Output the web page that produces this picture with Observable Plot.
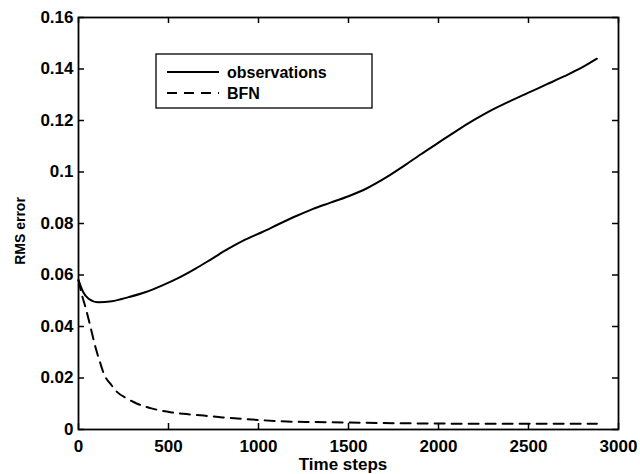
<!DOCTYPE html>
<html><head><meta charset="utf-8">
<script src="https://cdn.jsdelivr.net/npm/d3@7"></script>
<script src="https://cdn.jsdelivr.net/npm/@observablehq/plot@0.6"></script>
<style>
body{margin:0;background:#fff}
#chart{width:640px;height:474px;overflow:hidden}
</style>
</head><body><div id="chart"></div>
<script>
// Data
const seriesNames = ["observations", "BFN"];
const obsT = [0, 25, 56, 111, 185, 278, 370, 463, 556, 648, 741, 833, 926, 1019, 1111, 1213, 1300, 1400, 1500, 1600, 1700, 1800, 1900, 2000, 2100, 2200, 2300, 2400, 2500, 2600, 2700, 2800, 2880];
const obsV = [0.0580, 0.0535, 0.0508, 0.0494, 0.0498, 0.0514, 0.0533, 0.0559, 0.0589, 0.0624, 0.0663, 0.0702, 0.0737, 0.0766, 0.0797, 0.0830, 0.0856, 0.0881, 0.0906, 0.0936, 0.0975, 0.1020, 0.1068, 0.1114, 0.1160, 0.1203, 0.1242, 0.1276, 0.1308, 0.1340, 0.1372, 0.1407, 0.1440];
const bfnT = [0, 20, 40, 67, 94, 120, 141, 180, 215, 270, 326, 400, 511, 600, 696, 800, 900, 1000, 1122, 1300, 1500, 1694, 2000, 2500, 2880];
const bfnV = [0.0580, 0.0520, 0.0472, 0.0397, 0.0320, 0.0260, 0.0216, 0.0175, 0.0145, 0.0120, 0.0100, 0.0083, 0.0067, 0.0060, 0.0054, 0.0047, 0.0042, 0.0037, 0.0032, 0.0029, 0.0027, 0.0025, 0.0023, 0.0022, 0.0022];
const xTicks = [0, 500, 1000, 1500, 2000, 2500, 3000];
const yTicks = [0, 0.02, 0.04, 0.06, 0.08, 0.1, 0.12, 0.14, 0.16];
const xLabel = "Time steps";
const yLabel = "RMS error";

const obs = obsT.map((t, i) => ({t, v: obsV[i]}));
const bfn = bfnT.map((t, i) => ({t, v: bfnV[i]}));

const font = "'Liberation Sans', Arial, Helvetica, sans-serif";
const fmtY = d => d === 0 ? "0" : String(+d.toFixed(2));
const fmtX = d => String(d);

const plot = Plot.plot({
  width: 640, height: 474,
  marginLeft: 78, marginRight: 22, marginTop: 17, marginBottom: 45,
  x: {domain: [0, 3000]},
  y: {domain: [0, 0.16]},
  style: {fontFamily: font, fontSize: "17px", fontWeight: "bold", background: "#fff", color: "#000"},
  marks: [
    Plot.axisX(xTicks, {tickSize: 0, tickPadding: 10, tickFormat: fmtX, label: null, fontWeight: "bold", fontSize: 17}),
    Plot.axisY(yTicks, {tickSize: 0, tickPadding: 5, tickFormat: fmtY, label: null, fontWeight: "bold", fontSize: 17}),
    Plot.line(obs, {x: "t", y: "v", stroke: "#000", strokeWidth: 2, curve: "monotone-x"}),
    Plot.line(bfn, {x: "t", y: "v", stroke: "#000", strokeWidth: 2, strokeDasharray: "10,7", curve: "monotone-x"}),
    Plot.ruleX(xTicks, {x: d => d, insetTop: 406, stroke: "#000", strokeWidth: 1.5}),
    Plot.ruleX(xTicks, {x: d => d, insetBottom: 406, stroke: "#000", strokeWidth: 1.5}),
    Plot.ruleY(yTicks, {y: d => d, insetRight: 534, stroke: "#000", strokeWidth: 1.5}),
    Plot.ruleY(yTicks, {y: d => d, insetLeft: 534, stroke: "#000", strokeWidth: 1.5}),
    Plot.frame({stroke: "#000", strokeWidth: 1.8})
  ]
});
document.getElementById("chart").appendChild(plot);

const svg = d3.select(plot);
svg.append("text").attr("x", 343).attr("y", 470).attr("text-anchor", "middle")
  .attr("font-family", font).attr("font-size", 17).attr("font-weight", "bold").attr("fill", "#000").text(xLabel);
svg.append("text").attr("transform", "translate(25,231) rotate(-90)").attr("text-anchor", "middle")
  .attr("font-family", font).attr("font-size", 14).attr("font-weight", "bold").attr("fill", "#000").text(yLabel);

// Legend
const lg = svg.append("g");
lg.append("rect").attr("x", 156).attr("y", 54).attr("width", 216).attr("height", 54)
  .attr("fill", "#fff").attr("stroke", "#000").attr("stroke-width", 1.3);
const rows = [{y: 72, dash: null}, {y: 93, dash: "10,7"}];
rows.forEach((r, i) => {
  const l = lg.append("line").attr("x1", 167).attr("x2", 219).attr("y1", r.y).attr("y2", r.y)
    .attr("stroke", "#000").attr("stroke-width", 2);
  if (r.dash) l.attr("stroke-dasharray", r.dash);
  lg.append("text").attr("x", 227).attr("y", r.y + 5.5).attr("text-anchor", "start").attr("font-family", font)
    .attr("font-size", 16).attr("font-weight", "bold").attr("fill", "#000").text(seriesNames[i]);
});
</script>
</body></html>
